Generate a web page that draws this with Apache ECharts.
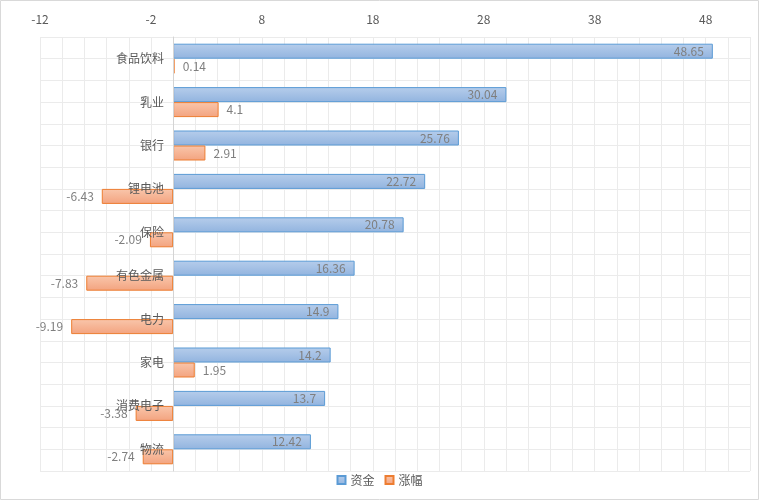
<!DOCTYPE html>
<html><head><meta charset="utf-8">
<script src="https://cdn.jsdelivr.net/npm/echarts@6/dist/echarts.min.js"></script>
<style>html,body{margin:0;padding:0;background:#fff}#c{width:759px;height:500px}</style>
</head><body><div id="c"></div>
<script>
const categories = ['食品饮料','乳业','银行','锂电池','保险','有色金属','电力','家电','消费电子','物流'];
const fundValues = [48.65, 30.04, 25.76, 22.72, 20.78, 16.36, 14.9, 14.2, 13.7, 12.42];
const changeValues = [0.14, 4.1, 2.91, -6.43, -2.09, -7.83, -9.19, 1.95, -3.38, -2.74];
const seriesNames = ['资金','涨幅'];

const FONT = '"Noto Sans CJK SC", "Noto Sans", sans-serif';
const chart = echarts.init(document.getElementById('c'));
const blueFill = new echarts.graphic.LinearGradient(0,0,0,1,[{offset:0,color:'#b6cdeb'},{offset:1,color:'#92b4df'}]);
const orangeFill = new echarts.graphic.LinearGradient(0,0,0,1,[{offset:0,color:'#f9c6ab'},{offset:1,color:'#f3a37f'}]);
const GRID_LEFT = 40;
const gridBox = {left: GRID_LEFT, right: 9, top: 37, bottom: 29, containLabel: false, outerBoundsMode: 'none'};

chart.setOption({
  animation: false,
  textStyle: {fontFamily: FONT},
  graphic: [{type:'rect', shape:{x:0.5,y:0.5,width:758,height:499}, style:{fill:'none', stroke:'#d9d9d9', lineWidth:1}, silent:true}],
  grid: [Object.assign({}, gridBox), Object.assign({}, gridBox)],
  legend: {
    data: seriesNames, bottom: 9, left: 'center', icon: 'rect',
    itemWidth: 8, itemHeight: 8, itemGap: 10,
    textStyle: {color: '#595959', fontSize: 12, fontFamily: FONT}
  },
  xAxis: [{
    gridIndex: 0, type: 'value', position: 'top', min: -12, max: 52, interval: 2,
    axisLine: {show: false, onZero: false}, axisTick: {show: false},
    axisLabel: {color: '#595959', fontSize: 12, margin: 12, fontFamily: FONT,
      formatter: v => ((v + 12) % 10 === 0 ? String(v) : '')},
    splitLine: {show: true, lineStyle: {color: '#ebebeb', width: 1}}
  }, {
    gridIndex: 1, type: 'value', min: 0, max: 1, show: false,
    axisLine: {onZero: false}, splitLine: {show: false}
  }],
  yAxis: [{
    gridIndex: 0, type: 'category', data: categories, inverse: true, z: 5, position: 'left', offset: 0,
    axisLine: {show: true, onZero: false, lineStyle: {color: '#d4d4d4'}},
    axisTick: {show: false},
    axisLabel: {color: '#595959', fontSize: 12, margin: 9, fontFamily: FONT},
    splitLine: {show: false}
  }, {
    gridIndex: 1, type: 'value', min: 0, max: 20, interval: 1,
    axisLine: {show: false, onZero: false}, axisTick: {show: false}, axisLabel: {show: false},
    splitLine: {show: true, lineStyle: {color: '#ebebeb', width: 1}}
  }],
  series: [{
    name: seriesNames[0], type: 'bar', xAxisIndex: 0, yAxisIndex: 0, barWidth: 15, barGap: '0%',
    data: fundValues,
    itemStyle: {color: blueFill, borderColor: '#5b9bd5', borderWidth: 1},
    label: {show: true, position: 'insideRight', distance: 9, color: '#7f7f7f', fontSize: 12, fontFamily: FONT}
  }, {
    name: seriesNames[1], type: 'bar', xAxisIndex: 0, yAxisIndex: 0, barWidth: 15, barGap: '0%',
    data: changeValues.map(v => ({value: v, label: {position: v < 0 ? 'left' : 'right'}})),
    itemStyle: {color: orangeFill, borderColor: '#ed7d31', borderWidth: 1},
    label: {show: true, distance: 8, color: '#7f7f7f', fontSize: 12, fontFamily: FONT}
  }]
});
// place the category axis at the value axis' zero, using the library's own scale
const zeroX = chart.convertToPixel({xAxisIndex: 0}, 0);
chart.setOption({yAxis: [{offset: -(zeroX - GRID_LEFT)}, {}]});
</script></body></html>
